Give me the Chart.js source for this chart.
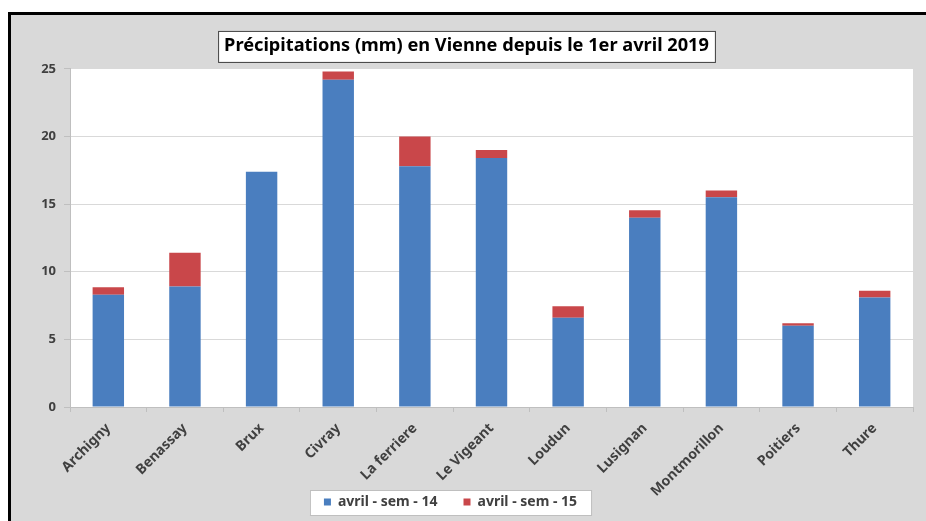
<!DOCTYPE html>
<html>
<head>
<meta charset="utf-8">
<script src="https://cdn.jsdelivr.net/npm/chart.js@4"></script>
<style>
  html,body{margin:0;padding:0;background:#fff;}
  #c{display:block;}
</style>
</head>
<body>
<canvas id="c" width="926" height="521"></canvas>
<script>
/* precipitations vienne - stacked bars */
const communes = ['Archigny','Benassay','Brux','Civray','La ferriere','Le Vigeant','Loudun','Lusignan','Montmorillon','Poitiers','Thure'];
const sem14 = [8.3, 8.9, 17.4, 24.2, 17.8, 18.4, 6.6, 14.0, 15.5, 6.0, 8.1];
const sem15 = [0.55, 2.5, 0, 0.6, 2.2, 0.6, 0.85, 0.55, 0.5, 0.2, 0.5];
const yTicks = [0, 5, 10, 15, 20, 25];
const titleText = 'Précipitations (mm) en Vienne depuis le 1er avril 2019';

const FONT = '"Noto Sans", sans-serif';

// frame, plot background, title box and legend box
const decor = {
  id:'decor',
  afterLayout(chart){
    const lg = chart.legend;
    if(lg){ lg.left -= 16; lg.right -= 16; }
  },
  beforeDraw(chart){
    const ctx = chart.ctx, a = chart.chartArea;
    ctx.save();
    ctx.fillStyle = '#fff'; ctx.fillRect(0,0,chart.width,chart.height);
    ctx.fillStyle = '#d9d9d9'; ctx.fillRect(8,12,chart.width-8,chart.height-12);
    ctx.fillStyle = '#000'; ctx.fillRect(8,12,chart.width-8,3); ctx.fillRect(8,12,3,chart.height-12);
    ctx.fillStyle = '#fff'; ctx.fillRect(a.left,a.top,a.right-a.left,a.bottom-a.top);
    // title box
    const t = chart.titleBlock, to = t.options;
    ctx.font = `bold ${to.font.size}px ${FONT}`;
    const w = ctx.measureText(titleText).width;
    const cx = (t.left+t.right)/2;
    const cy = t.top + to.padding.top + to.font.size*0.6;
    ctx.fillStyle = '#fff'; ctx.strokeStyle = '#404040'; ctx.lineWidth = 1;
    ctx.fillRect(cx-w/2-6, cy-15, w+12, 31);
    ctx.strokeRect(cx-w/2-6+0.5, cy-15+0.5, w+12, 31);
    // legend box
    const hb = chart.legend.legendHitBoxes;
    if(hb && hb.length){
      const x0 = Math.min(...hb.map(h=>h.left)) - 14;
      const x1 = Math.max(...hb.map(h=>h.left+h.width)) + 14;
      const yc = hb[0].top + hb[0].height/2;
      ctx.fillStyle = '#fff'; ctx.strokeStyle = '#bfbfbf';
      ctx.fillRect(x0, yc-12, x1-x0, 25);
      ctx.strokeRect(x0+0.5, yc-12+0.5, x1-x0, 25);
    }
    ctx.restore();
  }
};

new Chart(document.getElementById('c'), {
  type:'bar',
  data:{
    labels: communes,
    datasets:[
      { label:'avril - sem - 14', data: sem14, backgroundColor:'#4a7ebf', barPercentage:0.41, categoryPercentage:1 },
      { label:'avril - sem - 15', data: sem15, backgroundColor:'#c9474a', barPercentage:0.41, categoryPercentage:1 }
    ]
  },
  options:{
    responsive:false, animation:false, devicePixelRatio:1,
    layout:{ padding:{ left:20, right:13, top:0, bottom:2 } },
    plugins:{
      title:{ display:true, text:titleText, color:'#000', font:{ family:FONT, size:18.2, weight:'bold' }, padding:{ top:35, bottom:12 } },
      legend:{ position:'bottom', labels:{ color:'#404040', font:{ family:FONT, size:14, weight:'bold' }, boxWidth:7, boxHeight:7, padding:26 } },
      tooltip:{ enabled:false }
    },
    scales:{
      x:{ stacked:true,
          grid:{ offset:true, color:'rgba(0,0,0,0)', tickColor:'#bfbfbf', tickLength:5 },
          border:{ color:'#bfbfbf' },
          ticks:{ color:'#404040', font:{ family:FONT, size:14, weight:'bold' }, minRotation:45, maxRotation:45, padding:8 },
          // long rotated labels run past the axis box, don't clip them
          afterFit(s){ s.height = 62; s._computeLabelArea = ()=>undefined; } },
      y:{ stacked:true, min:0, max:25,
          afterBuildTicks(s){ s.ticks = yTicks.map(v=>({ value:v })); },
          grid:{ color:'#d9d9d9', tickColor:'#bfbfbf', tickLength:6 },
          border:{ color:'#bfbfbf' },
          ticks:{ color:'#404040', font:{ family:FONT, size:13, weight:'bold' }, padding:8 },
          afterFit(s){ s.width = 50; } }
    }
  },
  plugins:[decor]
});
</script>
</body>
</html>
